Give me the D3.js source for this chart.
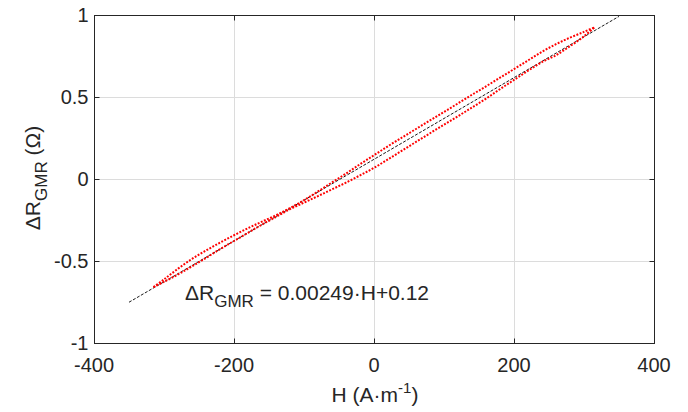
<!DOCTYPE html>
<html><head><meta charset="utf-8">
<script src="https://cdn.jsdelivr.net/npm/d3@7"></script>
<style>
html,body{margin:0;padding:0;background:#fff;}
text{font-family:"Liberation Sans",Arial,Helvetica,sans-serif;fill:#262626;}
</style>
</head><body>
<svg id="chart" width="688" height="412"></svg>
<script>
// ---- data ----
const fieldH = [-315,-300,-280,-260,-240,-220,-200,-180,-160,-140,-120,-100,-80,-60,-40,-20,0,20,40,60,80,100,120,140,160,180,200,220,240,260,280,300,315];
const upperBranch = [-0.659,-0.612,-0.547,-0.487,-0.436,-0.388,-0.343,-0.300,-0.260,-0.221,-0.177,-0.129,-0.076,-0.021,0.033,0.090,0.145,0.200,0.253,0.305,0.357,0.409,0.461,0.514,0.565,0.618,0.670,0.723,0.776,0.822,0.862,0.897,0.925];
const lowerBranch = [-0.659,-0.627,-0.582,-0.532,-0.481,-0.428,-0.378,-0.328,-0.278,-0.231,-0.184,-0.144,-0.104,-0.063,-0.022,0.022,0.068,0.120,0.173,0.226,0.279,0.331,0.383,0.436,0.490,0.548,0.604,0.660,0.713,0.755,0.810,0.870,0.925];
const fitH = [-350, 350];
const fitR = [-0.7515, 0.9915];
const xTicks = [-400,-200,0,200,400];
const yTicks = [-1,-0.5,0,0.5,1];

// ---- layout ----
const L = 94, R = 654, T = 15, B = 343;
const svg = d3.select("#chart");
const x = d3.scaleLinear().domain([-400,400]).range([L,R]);
const y = d3.scaleLinear().domain([-1,1]).range([B,T]);
const axisColor = "#262626";

// grid
const grid = svg.append("g");
grid.selectAll("line.vx").data(xTicks).enter().append("line")
  .attr("x1", d => Math.round(x(d))+0.5).attr("x2", d => Math.round(x(d))+0.5)
  .attr("y1", T).attr("y2", B).attr("stroke", "#dcdcdc").attr("stroke-width", 1);
grid.selectAll("line.hy").data(yTicks).enter().append("line")
  .attr("y1", d => Math.round(y(d))+0.5).attr("y2", d => Math.round(y(d))+0.5)
  .attr("x1", L).attr("x2", R).attr("stroke", "#dcdcdc").attr("stroke-width", 1);

// fit line
const lineFn = d3.line().x(d => x(d[0])).y(d => y(d[1]));
svg.append("path")
  .datum(fitH.map((h,i) => [h, fitR[i]]))
  .attr("d", lineFn).attr("fill","none").attr("stroke","#000")
  .attr("stroke-width", 0.9).attr("stroke-dasharray","3 1.6");

// data branches (dotted red)
const curve = d3.line().x(d => x(d[0])).y(d => y(d[1])).curve(d3.curveCatmullRom);
[upperBranch, lowerBranch].forEach(br => {
  svg.append("path")
    .datum(fieldH.map((h,i) => [h, br[i]]))
    .attr("d", curve).attr("fill","none").attr("stroke","#ff0000")
    .attr("stroke-width", 2).attr("stroke-dasharray","1.9 1.5");
});

// axes (box with inward ticks)
const ax = svg.append("g");
ax.append("rect").attr("x", L+0.5).attr("y", T+0.5).attr("width", R-L).attr("height", B-T)
  .attr("fill","none").attr("stroke", axisColor).attr("stroke-width", 1);
const tl = 5;
xTicks.forEach(t => {
  const px = Math.round(x(t))+0.5;
  ax.append("line").attr("x1",px).attr("x2",px).attr("y1",B+0.5).attr("y2",B+0.5-tl).attr("stroke",axisColor);
  ax.append("line").attr("x1",px).attr("x2",px).attr("y1",T+0.5).attr("y2",T+0.5+tl).attr("stroke",axisColor);
});
yTicks.forEach(t => {
  const py = Math.round(y(t))+0.5;
  ax.append("line").attr("y1",py).attr("y2",py).attr("x1",L+0.5).attr("x2",L+0.5+tl).attr("stroke",axisColor);
  ax.append("line").attr("y1",py).attr("y2",py).attr("x1",R+0.5).attr("x2",R+0.5-tl).attr("stroke",axisColor);
});

// tick labels
const fmt = d => (d < 0 ? "-" : "") + String(Math.abs(d));
svg.append("g").selectAll("text").data(xTicks).enter().append("text")
  .attr("x", d => x(d)).attr("y", 371.5).attr("text-anchor","middle")
  .attr("font-size", 20).text(fmt);
svg.append("g").selectAll("text").data(yTicks).enter().append("text")
  .attr("x", 88.5).attr("y", d => y(d) + 7.2).attr("text-anchor","end")
  .attr("font-size", 20).text(fmt);

// x label
const xl = svg.append("text").attr("x", 375).attr("y", 402).attr("text-anchor","middle").attr("font-size", 21);
xl.append("tspan").text("H (A·m");
xl.append("tspan").attr("dy", -9).attr("font-size", 15).text("-1");
xl.append("tspan").attr("dy", 9).text(")");

// y label
const yl = svg.append("text").attr("transform","translate(40,178) rotate(-90)")
  .attr("text-anchor","middle").attr("font-size", 21);
yl.append("tspan").text("ΔR");
yl.append("tspan").attr("dy", 7).attr("font-size", 17).text("GMR");
yl.append("tspan").attr("dy", -7).text(" (Ω)");

// equation annotation
const eq = svg.append("text").attr("x", 185).attr("y", 300).attr("font-size", 21);
eq.append("tspan").text("ΔR");
eq.append("tspan").attr("dy", 7).attr("font-size", 17).text("GMR");
eq.append("tspan").attr("dy", -7).text(" = 0.00249·H+0.12");
</script>
</body></html>
